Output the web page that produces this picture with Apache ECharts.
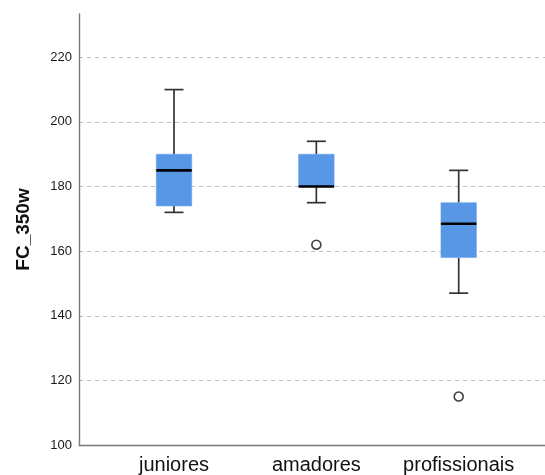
<!DOCTYPE html>
<html>
<head>
<meta charset="utf-8">
<script src="https://cdn.jsdelivr.net/npm/echarts@6/dist/echarts.min.js"></script>
<style>
  html, body { margin: 0; padding: 0; background: #fff; }
  #chart { width: 545px; height: 475px; }
</style>
</head>
<body>
<div id="chart"></div>
<script>
// Groups and five-number summaries of FC_350w
const categories = ['juniores', 'amadores', 'profissionais'];
const whiskerLow  = [172, 175, 147];
const quartile1   = [174, 180, 158];
const medians     = [185, 180, 168.5];
const quartile3   = [190, 190, 175];
const whiskerHigh = [210, 194, 185];

// Outliers: group index and value
const outlierGroup  = [1, 2];
const outlierValues = [162, 115];

const yTicks = [100, 120, 140, 160, 180, 200, 220];

const boxData = categories.map((c, i) =>
  [i, whiskerLow[i], quartile1[i], medians[i], quartile3[i], whiskerHigh[i]]);
const outlierData = outlierValues.map((v, i) => [outlierGroup[i], v]);

const BOX_W = 35.5;
const CAP_W = 19;
const lineColor = '#333';

function renderBox(params, api) {
  const x = api.value(0);
  const lo = api.coord([x, api.value(1)]);
  const q1 = api.coord([x, api.value(2)]);
  const md = api.coord([x, api.value(3)]);
  const q3 = api.coord([x, api.value(4)]);
  const hi = api.coord([x, api.value(5)]);
  const cx = lo[0];
  const ln = { stroke: lineColor, lineWidth: 1.7 };
  return {
    type: 'group',
    children: [
      { type: 'line', shape: { x1: cx, y1: hi[1], x2: cx, y2: q3[1] }, style: ln },
      { type: 'line', shape: { x1: cx, y1: q1[1], x2: cx, y2: lo[1] }, style: ln },
      { type: 'line', shape: { x1: cx - CAP_W / 2, y1: hi[1], x2: cx + CAP_W / 2, y2: hi[1] }, style: ln },
      { type: 'line', shape: { x1: cx - CAP_W / 2, y1: lo[1], x2: cx + CAP_W / 2, y2: lo[1] }, style: ln },
      { type: 'rect', shape: { x: cx - BOX_W / 2, y: q3[1], width: BOX_W, height: q1[1] - q3[1] },
        style: { fill: '#5897e6', stroke: '#6aa3ec', lineWidth: 0.6 } },
      { type: 'line', shape: { x1: cx - BOX_W / 2, y1: md[1], x2: cx + BOX_W / 2, y2: md[1] },
        style: { stroke: '#000', lineWidth: 2.6 } }
    ]
  };
}

const chart = echarts.init(document.getElementById('chart'), null, { renderer: 'canvas' });
chart.setOption({
  animation: false,
  backgroundColor: '#fff',
  grid: { left: 79, right: 0, top: 14, bottom: 28 },
  xAxis: {
    type: 'value',
    min: -0.6674,
    max: 2.6063,
    axisLine: { onZero: false, lineStyle: { color: '#7a7a7a', width: 1.4 } },
    axisTick: { show: false },
    splitLine: { show: false },
    axisLabel: {
      customValues: [0, 1, 2],
      formatter: v => categories[Math.round(v)] || '',
      margin: 10,
      fontFamily: 'Liberation Sans, Arial, sans-serif',
      fontSize: 20,
      color: '#111'
    }
  },
  yAxis: {
    type: 'value',
    min: 100,
    max: 233.4,
    name: 'FC_350w',
    nameLocation: 'middle',
    nameGap: 46,
    nameTextStyle: {
      fontFamily: 'Liberation Sans, Arial, sans-serif',
      fontSize: 19,
      fontWeight: 'bold',
      color: '#111'
    },
    axisLine: { show: true, onZero: false, lineStyle: { color: '#7a7a7a', width: 1.4 } },
    axisTick: { show: false, customValues: yTicks.slice(1) },
    splitLine: { show: true, lineStyle: { color: '#bdbdbd', type: [4, 4], width: 1 } },
    axisLabel: {
      customValues: yTicks,
      margin: 7,
      fontFamily: 'Liberation Sans, Arial, sans-serif',
      fontSize: 13,
      color: '#1a1a1a'
    }
  },
  series: [
    {
      type: 'custom',
      renderItem: renderBox,
      data: boxData,
      encode: { x: 0, y: [1, 2, 3, 4, 5] },
      z: 3
    },
    {
      type: 'scatter',
      data: outlierData,
      symbol: 'circle',
      symbolSize: 9,
      itemStyle: { color: '#fff', borderColor: '#111', borderWidth: 1.6 },
      z: 4
    }
  ]
});
</script>
</body>
</html>
